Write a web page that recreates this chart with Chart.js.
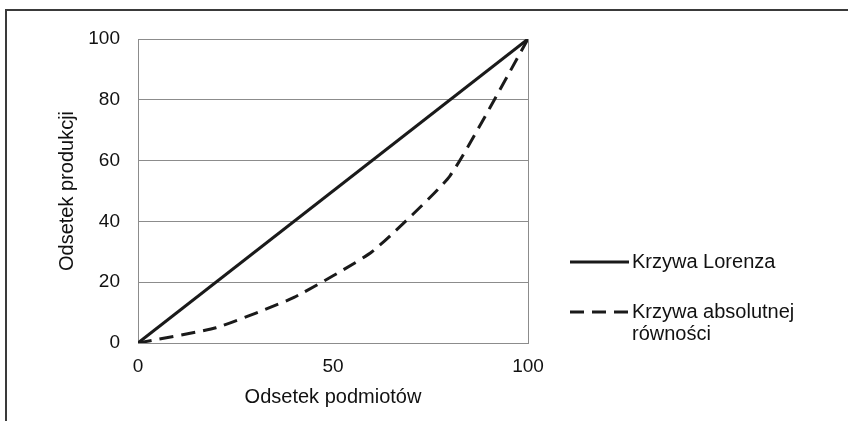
<!DOCTYPE html>
<html lang="pl">
<head>
<meta charset="utf-8">
<title>Krzywa Lorenza</title>
<script src="https://cdn.jsdelivr.net/npm/chart.js@4.4.1/dist/chart.umd.min.js"></script>
<style>
  html, body { margin: 0; padding: 0; background: #fff; overflow: hidden; }
  #wrap { position: relative; width: 848px; height: 421px; }
  #frame {
    position: absolute; left: 5px; top: 9px; width: 900px; height: 500px;
    border-left: 2px solid #3a3a3a; border-top: 2px solid #3a3a3a; box-sizing: border-box;
  }
  #chart { position: absolute; left: 0; top: 0; }
  #legend {
    position: absolute; left: 570px; top: 250px;
    font-family: "Liberation Sans", Arial, sans-serif; font-size: 20px; color: #111;
  }
  .item { position: relative; height: 50px; }
  .sample { position: absolute; left: 0; top: 10px; }
  .txt { position: absolute; left: 62px; top: 0; line-height: 22px; white-space: nowrap; }
</style>
</head>
<body>
<div id="wrap">
  <div id="frame"></div>
  <canvas id="chart" width="848" height="421"></canvas>
  <div id="legend"></div>
</div>
<script>
"use strict";
// odsetek podmiotów (oś X) i odsetek produkcji (oś Y)
var lorenzX = [0, 100];
var lorenzY = [0, 100];
var equalX = [0, 20, 40, 60, 80, 100];
var equalY = [0, 5, 15, 30, 55, 100];
var seriesNames = ['Krzywa Lorenza', ['Krzywa absolutnej', 'równości']];
var xTicks = [0, 50, 100];
var yTicks = [0, 20, 40, 60, 80, 100];

function toPoints(xs, ys) {
  var pts = [];
  for (var i = 0; i < xs.length; i++) pts.push({x: xs[i], y: ys[i]});
  return pts;
}

var family = '"Liberation Sans", Arial, sans-serif';
var tickFont = {family: family, size: 19};
var titleFont = {family: family, size: 20};
var dash = [14, 8];

var chart = new Chart(document.getElementById('chart'), {
  type: 'line',
  data: {
    datasets: [
      {
        label: 'Krzywa Lorenza',
        data: toPoints(lorenzX, lorenzY),
        borderColor: '#1a1a1a',
        borderWidth: 3,
        pointRadius: 0,
        tension: 0
      },
      {
        label: 'Krzywa absolutnej równości',
        data: toPoints(equalX, equalY),
        borderColor: '#1a1a1a',
        borderWidth: 3,
        borderDash: dash,
        pointRadius: 0,
        tension: 0.15
      }
    ]
  },
  options: {
    responsive: false,
    animation: false,
    layout: {padding: {left: 0, top: 39, right: 320, bottom: 0}},
    plugins: {legend: {display: false}, tooltip: {enabled: false}},
    scales: {
      x: {
        type: 'linear',
        min: 0, max: 100,
        afterBuildTicks: function (s) { s.ticks = xTicks.map(function (v) { return {value: v}; }); },
        afterFit: function (s) { s.height = 78; },
        ticks: {color: '#111', font: tickFont, padding: 12, maxRotation: 0},
        grid: {
          drawTicks: false,
          color: function (c) { return c.tick && c.tick.value === 100 ? '#8c8c8c' : 'rgba(0,0,0,0)'; }
        },
        border: {display: true, color: '#8c8c8c', width: 1},
        title: {display: true, text: 'Odsetek podmiotów', color: '#111', font: titleFont, padding: {top: 0, bottom: 12}}
      },
      y: {
        type: 'linear',
        min: 0, max: 100,
        afterBuildTicks: function (s) { s.ticks = yTicks.map(function (v) { return {value: v}; }); },
        afterFit: function (s) { s.width = 138; },
        ticks: {color: '#111', font: tickFont, padding: 18},
        grid: {drawTicks: false, color: '#8c8c8c', lineWidth: 1},
        border: {display: true, color: '#8c8c8c', width: 1},
        title: {display: true, text: 'Odsetek produkcji', color: '#111', font: titleFont, padding: {top: 55, bottom: 0}}
      }
    }
  }
});

// legenda obok wykresu, próbki linii jako SVG
var svgNS = 'http://www.w3.org/2000/svg';
var legend = document.getElementById('legend');
chart.data.datasets.forEach(function (ds, i) {
  var item = document.createElement('div');
  item.className = 'item';

  var svg = document.createElementNS(svgNS, 'svg');
  svg.setAttribute('class', 'sample');
  svg.setAttribute('width', '60');
  svg.setAttribute('height', '4');
  var line = document.createElementNS(svgNS, 'line');
  line.setAttribute('x1', '0'); line.setAttribute('y1', '2');
  line.setAttribute('x2', '59'); line.setAttribute('y2', '2');
  line.setAttribute('stroke', ds.borderColor);
  line.setAttribute('stroke-width', ds.borderWidth);
  if (ds.borderDash) line.setAttribute('stroke-dasharray', ds.borderDash.join(' '));
  svg.appendChild(line);

  var txt = document.createElement('div');
  txt.className = 'txt';
  [].concat(seriesNames[i]).forEach(function (text, j) {
    if (j) txt.appendChild(document.createElement('br'));
    txt.appendChild(document.createTextNode(text));
  });
  item.appendChild(svg);
  item.appendChild(txt);
  legend.appendChild(item);
});
</script>
</body>
</html>
